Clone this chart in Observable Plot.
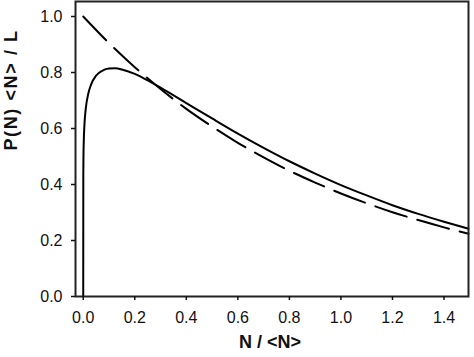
<!DOCTYPE html>
<html>
<head>
<meta charset="utf-8">
<script src="https://cdn.jsdelivr.net/npm/d3@7"></script>
<script src="https://cdn.jsdelivr.net/npm/@observablehq/plot@0.6"></script>
<style>
  html, body { margin: 0; padding: 0; background: #fff; }
  #chart svg { display: block; font-family: "Liberation Sans", Arial, sans-serif; }
</style>
</head>
<body>
<div id="chart"></div>
<script>
// Solid curve
const solidX = [0, 0.0003, 0.001, 0.002, 0.005, 0.01, 0.02, 0.03, 0.05, 0.075, 0.1, 0.125, 0.15, 0.2, 0.25, 0.3, 0.4, 0.5, 0.6, 0.7, 0.8, 0.9, 1.0, 1.1, 1.2, 1.3, 1.4, 1.495];
const solidY = [0, 0.437, 0.507, 0.552, 0.618, 0.672, 0.726, 0.756, 0.789, 0.807, 0.814, 0.815, 0.811, 0.795, 0.772, 0.746, 0.691, 0.636, 0.582, 0.531, 0.483, 0.439, 0.398, 0.361, 0.326, 0.295, 0.267, 0.242];
// Dashed curve
const dashX = [0, 0.1, 0.2, 0.3, 0.4, 0.5, 0.6, 0.7, 0.8, 0.9, 1.0, 1.1, 1.2, 1.3, 1.4, 1.495];
const dashY = [1.0, 0.905, 0.819, 0.741, 0.670, 0.607, 0.549, 0.497, 0.449, 0.407, 0.368, 0.333, 0.301, 0.273, 0.247, 0.224];
// Tick labels
const xTicks = [0, 0.2, 0.4, 0.6, 0.8, 1.0, 1.2, 1.4];
const yTicks = [0, 0.2, 0.4, 0.6, 0.8, 1.0];
const xTitle = "N / <N>";
const yTitle = "P(N) <N> / L";

const solid = solidX.map((x, i) => ({x, y: solidY[i]}));
const dashed = dashX.map((x, i) => ({x, y: dashY[i]}));

const chart = Plot.plot({
  width: 474,
  height: 357,
  marginLeft: 75,
  marginRight: 6,
  marginTop: 1,
  marginBottom: 61,
  style: {fontFamily: '"Liberation Sans", Arial, sans-serif', fontSize: "16px", color: "#111", background: "#fff"},
  x: {domain: [-0.03, 1.495]},
  y: {domain: [0, 1.0536]},
  marks: [
    Plot.line(dashed, {x: "x", y: "y", stroke: "#000", strokeWidth: 2, strokeDasharray: "33,11", curve: "monotone-x"}),
    Plot.line(solid, {x: "x", y: "y", stroke: "#000", strokeWidth: 2, curve: "monotone-x"}),
    Plot.frame({stroke: "#222", strokeWidth: 2}),
    Plot.axisX({ticks: xTicks, tickFormat: d3.format(".1f"), tickSize: 4, tickPadding: 11, strokeWidth: 1.5, fontSize: 16, label: null}),
    Plot.axisY({ticks: yTicks, tickFormat: d3.format(".1f"), tickSize: 4, tickPadding: 9, strokeWidth: 1.5, fontSize: 16, label: null}),
    Plot.text([xTitle], {frameAnchor: "bottom", dx: -2, dy: 51, fontWeight: "bold", fontSize: 18, fill: "#111"}),
    Plot.text([yTitle], {frameAnchor: "left", dx: -64, dy: 1.5, rotate: -90, fontWeight: "bold", fontSize: 18, fill: "#111"})
  ]
});
document.getElementById("chart").appendChild(chart);
// letter spacing for y title
chart.querySelectorAll("text").forEach(t => { if (t.textContent === yTitle) t.setAttribute("letter-spacing", "1.6"); });
</script>
</body>
</html>
